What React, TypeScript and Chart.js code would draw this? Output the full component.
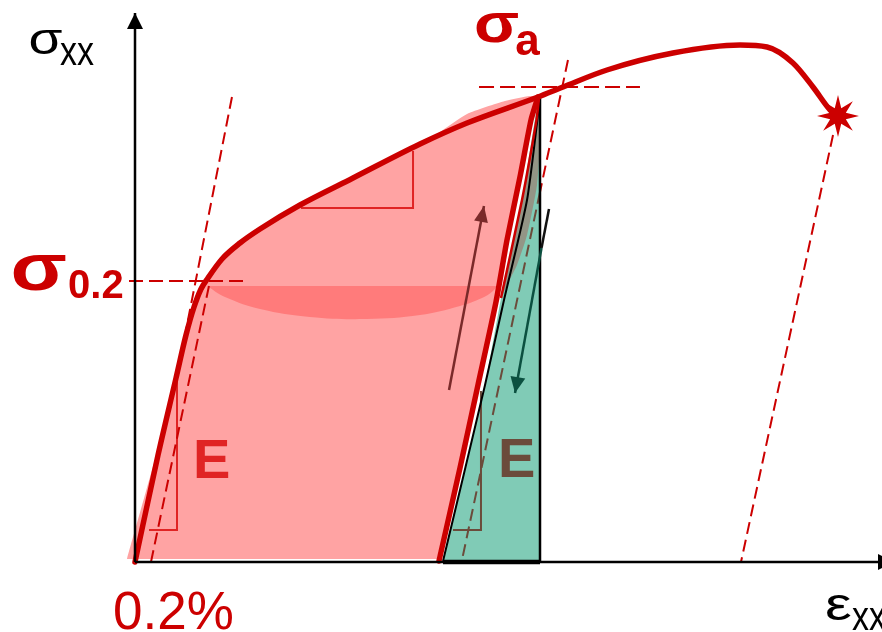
import React, { useEffect, useRef } from "react";
import { Chart, registerables } from "chart.js";

Chart.register(...registerables);

// x: strain (%), y: stress (MPa-like units)
const X_MIN = -1.8;
const X_MAX = 9.96;
const Y_MIN = -70;
const Y_MAX = 562;

// main stress-strain curve
const curveX = [0, 0.307, 0.547, 0.68, 0.787, 0.88, 0.973, 1.16, 1.4, 1.667, 2.2, 2.907, 3.8, 4.427, 5.373, 5.707, 6.293, 7.173, 8.067, 8.427, 8.773, 9.04, 9.267, 9.373];
const curveY = [0, 107, 184, 227, 255, 273, 284, 303, 319, 333, 357, 384, 418, 439, 465, 475, 492, 509, 517, 515, 499, 475, 452, 445];

// unloading path (thick red)
const unloadX = [5.373, 5.28, 5.133, 4.96, 4.813, 4.573, 4.333, 4.053];
const unloadY = [465, 442, 385, 322, 260, 177, 94, 1];

// second (thin) red unloading trace
const thinRedX = [5.387, 5.353, 5.16, 4.88];
const thinRedY = [464, 442, 362, 264];

// reloading path (black)
const reloadX = [4.107, 4.667, 4.92, 5.227, 5.4];
const reloadY = [1, 177, 262, 362, 464];

// elastic energy region (green)
const greenX = [4.107, 4.667, 4.88, 5.16, 5.373, 5.4, 5.4];
const greenY = [0, 177, 264, 362, 462, 464, 0];

// plastic work region (pink)
const pinkX = [-0.107, 0.413, 0.547, 0.68, 0.787, 0.88, 0.973, 1.16, 1.4, 1.667, 2.2, 2.907, 3.8, 4.067, 4.427, 4.933, 5.267, 5.373, 5.28, 5.133, 4.96, 4.813, 4.573, 4.333, 4.027];
const pinkY = [3, 142, 184, 227, 255, 273, 284, 303, 319, 333, 357, 384, 418, 430, 448, 461, 466, 465, 442, 385, 322, 260, 177, 94, 3];

// overlap region (pink over green)
const overlapX = [5.387, 5.353, 5.16, 4.88, 4.96, 5.093, 5.227, 5.36, 5.4, 5.4];
const overlapY = [464, 442, 362, 264, 277, 297, 327, 377, 422, 464];

// darker band
const bandX = [0.96, 1.2, 1.667, 2.333, 3.093, 3.8, 4.333, 4.627, 4.773, 4.827];
const bandY = [276, 265, 253, 245, 243, 247, 256, 264, 271, 276];

// slope triangles
const triUpX = [2.213, 3.707, 3.707];
const triUpY = [354, 354, 411];
const triLeftX = [0.187, 0.56, 0.56];
const triLeftY = [32, 32, 181];
const triRightX = [4.24, 4.613, 4.613];
const triRightY = [32, 32, 171];

// dashed construction lines
const tangentX = [1.293, 0.68];
const tangentY = [465, 232];
const offsetX = [0.213, 1.0];
const offsetY = [0, 281];
const s02X = [-0.08, 1.493];
const s02Y = [281, 281];
const saX = [4.587, 6.733];
const saY = [475, 475];
const slantRedX = [5.773, 5.4];
const slantRedY = [502, 370];
const slantBrownX = [5.4, 4.36];
const slantBrownY = [370, 2];
const fractureX = [9.307, 8.08];
const fractureY = [427, 0];

// arrows
const upArrowX = [4.187, 4.653];
const upArrowY = [172, 356];
const downTopX = [5.52, 5.42];
const downTopY = [353, 314];
const downArrowX = [5.42, 5.067];
const downArrowY = [314, 169];

// axes
const yAxisX = [0, 0];
const yAxisY = [0, 549];
const xAxisX = [0, 10.12];
const xAxisY = [0, 0];
const boldBaseX = [4.107, 5.4];
const boldBaseY = [0, 0];
const vertX = [5.4, 5.4];
const vertY = [0, 464];

// fracture point
const fractureStar = { x: 9.373, y: 446 };

const RED = "#CC0000";
const FONT = "'Liberation Sans', Arial, sans-serif";

const LABELS = [
  { text: "σ", x: -1.42, y: 508, size: 44, bold: false, color: "#000", sx: 1.25 },
  { text: "xx", x: -1.0, y: 497, size: 40, bold: false, color: "#000", sx: 0.85 },
  { text: "ε", x: 9.2, y: -58, size: 46, bold: false, color: "#000", sx: 1.3 },
  { text: "xx", x: 9.56, y: -68, size: 40, bold: false, color: "#000", sx: 0.85 },
  { text: "0.2%", x: -0.293, y: -67, size: 53, bold: false, color: RED, sx: 1 },
  { text: "σ", x: -1.66, y: 272, size: 66, bold: true, color: RED, sx: 1.25 },
  { text: "0.2", x: -0.893, y: 264, size: 40, bold: true, color: RED, sx: 1 },
  { text: "σ", x: 4.52, y: 520, size: 56, bold: true, color: RED, sx: 1.18 },
  { text: "a", x: 5.07, y: 507, size: 44, bold: true, color: RED, sx: 1 },
  { text: "E", x: 0.773, y: 84, size: 56, bold: true, color: "#E02424", sx: 1 },
  { text: "E", x: 4.84, y: 85, size: 56, bold: true, color: "#6B4B3B", sx: 1 },
];

const pts = (xs: number[], ys: number[]) => xs.map((x, i) => ({ x, y: ys[i] }));

function line(xs: number[], ys: number[], color: string, width: number, order: number, extra: any = {}) {
  return {
    data: pts(xs, ys),
    showLine: true,
    borderColor: color,
    backgroundColor: color,
    borderWidth: width,
    pointRadius: 0,
    pointHoverRadius: 0,
    fill: false,
    tension: 0,
    order,
    ...extra,
  };
}

function area(xs: number[], ys: number[], color: string, order: number, extra: any = {}) {
  return {
    data: pts(xs, ys),
    showLine: true,
    borderColor: "rgba(0,0,0,0)",
    backgroundColor: color,
    borderWidth: 0,
    pointRadius: 0,
    pointHoverRadius: 0,
    fill: "shape",
    tension: 0,
    order,
    ...extra,
  };
}

function makeStar(outer: number, inner: number, color: string) {
  const c = document.createElement("canvas");
  const s = Math.ceil(outer * 2 + 2);
  c.width = s;
  c.height = s;
  const g = c.getContext("2d")!;
  g.fillStyle = color;
  g.beginPath();
  for (let i = 0; i < 16; i++) {
    const r = i % 2 === 0 ? outer : inner;
    const a = -Math.PI / 2 + (i * Math.PI) / 8;
    const px = s / 2 + r * Math.cos(a);
    const py = s / 2 + r * Math.sin(a);
    if (i === 0) g.moveTo(px, py);
    else g.lineTo(px, py);
  }
  g.closePath();
  g.fill();
  return c;
}

const decorPlugin = {
  id: "decor",
  afterDatasetsDraw(chart: any) {
    const ctx = chart.ctx;
    const xs = chart.scales.x;
    const ys = chart.scales.y;
    chart.data.datasets.forEach((ds: any) => {
      const head = ds.arrowHead;
      if (!head) return;
      const d = ds.data;
      const a = d[d.length - 2];
      const b = d[d.length - 1];
      const ax = xs.getPixelForValue(a.x);
      const ay = ys.getPixelForValue(a.y);
      const bx = xs.getPixelForValue(b.x);
      const by = ys.getPixelForValue(b.y);
      const len = Math.hypot(bx - ax, by - ay);
      const ux = (bx - ax) / len;
      const uy = (by - ay) / len;
      const cx = bx - ux * head.length;
      const cy = by - uy * head.length;
      const hw = head.width / 2;
      ctx.save();
      ctx.fillStyle = ds.borderColor;
      ctx.beginPath();
      ctx.moveTo(bx, by);
      ctx.lineTo(cx - uy * hw, cy + ux * hw);
      ctx.lineTo(cx + uy * hw, cy - ux * hw);
      ctx.closePath();
      ctx.fill();
      ctx.restore();
    });
  },
  afterDraw(chart: any) {
    const ctx = chart.ctx;
    const xs = chart.scales.x;
    const ys = chart.scales.y;
    LABELS.forEach((l) => {
      ctx.save();
      ctx.font = `${l.bold ? "bold " : ""}${l.size}px ${FONT}`;
      ctx.fillStyle = l.color;
      ctx.textAlign = "left";
      ctx.textBaseline = "alphabetic";
      ctx.translate(xs.getPixelForValue(l.x), ys.getPixelForValue(l.y));
      ctx.scale(l.sx, 1);
      ctx.fillText(l.text, 0, 0);
      ctx.restore();
    });
  },
};

export default function App() {
  const ref = useRef<HTMLCanvasElement | null>(null);
  useEffect(() => {
    if (!ref.current) return;
    const star = makeStar(21, 8.5, RED);
    const datasets: any[] = [
      area(greenX, greenY, "#80CBB6", 20),
      area(pinkX, pinkY, "#FFA3A3", 19, { tension: 0.2 }),
      area(overlapX, overlapY, "rgba(165,95,85,0.5)", 18, { tension: 0.2 }),
      area(bandX, bandY, "#FF7B7B", 17, { tension: 0.4 }),
      line(triUpX, triUpY, "#E02424", 2, 16),
      line(triLeftX, triLeftY, "#E02424", 2, 16),
      line(triRightX, triRightY, "#6B4B3B", 2, 16),
      line(tangentX, tangentY, RED, 2, 15, { borderDash: [12, 6] }),
      line(offsetX, offsetY, RED, 2, 15, { borderDash: [12, 6] }),
      line(s02X, s02Y, RED, 2, 15, { borderDash: [14, 6] }),
      line(saX, saY, RED, 2, 15, { borderDash: [15, 6] }),
      line(slantRedX, slantRedY, RED, 2, 15, { borderDash: [12, 6] }),
      line(slantBrownX, slantBrownY, "#6B4B3B", 2, 15, { borderDash: [12, 6] }),
      line(fractureX, fractureY, RED, 2, 15, { borderDash: [12, 6] }),
      line(reloadX, reloadY, "#000", 2, 10, { tension: 0.2 }),
      line(vertX, vertY, "#000", 2.5, 10),
      line(boldBaseX, boldBaseY, "#000", 4.5, 10),
      line(thinRedX, thinRedY, RED, 2.5, 9, { tension: 0.2 }),
      line(unloadX, unloadY, RED, 5.5, 8, { tension: 0.2, borderCapStyle: "round", borderJoinStyle: "round" }),
      line(curveX, curveY, RED, 5.5, 7, { cubicInterpolationMode: "monotone", borderCapStyle: "round", borderJoinStyle: "round" }),
      line(upArrowX, upArrowY, "#7A2A2A", 2.5, 6, { arrowHead: { length: 16, width: 14 } }),
      line(downTopX, downTopY, "#111", 2.5, 6),
      line(downArrowX, downArrowY, "#0B5040", 2.5, 6, { arrowHead: { length: 16, width: 15 } }),
      line(yAxisX, yAxisY, "#000", 2.5, 4, { arrowHead: { length: 16, width: 16 } }),
      line(xAxisX, xAxisY, "#000", 2.5, 4, { arrowHead: { length: 16, width: 16 } }),
      {
        data: [fractureStar],
        showLine: false,
        pointStyle: star,
        pointRadius: 21,
        pointHoverRadius: 21,
        order: 1,
      },
    ];
    const chart = new Chart(ref.current, {
      type: "scatter",
      data: { datasets },
      options: {
        animation: false,
        responsive: false,
        devicePixelRatio: 1,
        events: [],
        layout: { padding: 0, autoPadding: false },
        scales: {
          x: { type: "linear", min: X_MIN, max: X_MAX, display: false },
          y: { type: "linear", min: Y_MIN, max: Y_MAX, display: false },
        },
        plugins: {
          legend: { display: false },
          tooltip: { enabled: false },
          title: { display: false },
        },
      },
      plugins: [decorPlugin],
    } as any);
    return () => chart.destroy();
  }, []);
  return (
    <div style={{ position: "fixed", left: 0, top: 0, width: 882, height: 632, background: "#fff" }}>
      <canvas ref={ref} width={882} height={632} style={{ display: "block", width: 882, height: 632 }} />
    </div>
  );
}
